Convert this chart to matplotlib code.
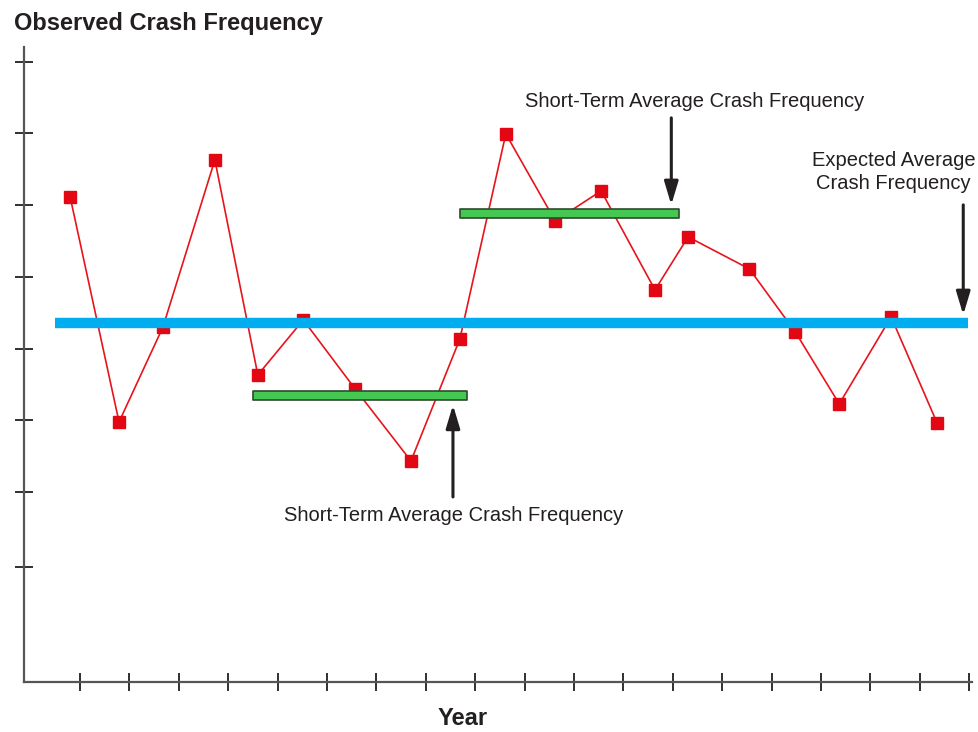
import matplotlib
matplotlib.use('Agg')
import matplotlib.pyplot as plt

# observed crash frequency per year (x in tick units, y in chart units)
year_pos = [0.80, 1.79, 2.68, 3.73, 4.60, 5.52, 6.57, 7.70, 8.69, 9.62,
            10.62, 11.55, 12.64, 13.31, 14.55, 15.48, 16.37, 17.42, 18.35]
crashes = [48.5, 26.0, 35.5, 52.2, 30.7, 36.2, 29.3, 22.1, 34.3, 54.8,
           46.1, 49.1, 39.2, 44.5, 41.3, 35.0, 27.8, 36.5, 25.9]

expected_avg = 35.85
expected_span = (0.49, 18.98)

short_term_avgs = [28.6, 46.85]
short_term_spans = [(4.50, 8.84), (8.69, 13.13)]

x_ticks = list(range(1, 20))
y_ticks = [11.5, 19.0, 26.2, 33.3, 40.5, 47.7, 54.9, 62.0]

label_font = 'Liberation Sans'

fig = plt.figure(figsize=(9.79, 7.32), dpi=100)
ax = fig.add_axes([0.0245, 0.0683, 0.9685, 0.8677])

# red series
ax.plot(year_pos, crashes, color='#e8141c', lw=1.2, zorder=2)
ax.plot(year_pos, crashes, ls='none', marker='s', ms=8.8,
        color='#e30613', zorder=3)

# expected average
ax.plot(expected_span, [expected_avg] * 2, color='#00aeef', lw=7.5,
        solid_capstyle='butt', zorder=4)

# short-term averages as thin green bars
for (x0, x1), y in zip(short_term_spans, short_term_avgs):
    ax.fill_between([x0, x1], y - 0.45, y + 0.45, facecolor='#45c852',
                    edgecolor='#2d4a2d', lw=1.2, zorder=5)

arrow = dict(arrowstyle='-|>,head_length=1.4,head_width=0.42',
             color='#231f20', lw=2.2, shrinkA=0, shrinkB=0)
ax.annotate('', xy=(8.55, 27.7), xytext=(8.55, 18.5), arrowprops=arrow, zorder=6)
ax.annotate('', xy=(12.97, 47.7), xytext=(12.97, 56.4), arrowprops=arrow, zorder=6)
ax.annotate('', xy=(18.88, 36.7), xytext=(18.88, 47.7), arrowprops=arrow, zorder=6)

ax.text(8.57, 16.6, 'Short-Term Average Crash Frequency', ha='center',
        va='center', fontsize=14.5, family=label_font, color='#231f20')
ax.text(13.45, 58.0, 'Short-Term Average Crash Frequency', ha='center',
        va='center', fontsize=14.5, family=label_font, color='#231f20')
ax.text(17.47, 51.0, 'Expected Average\nCrash Frequency', ha='center',
        va='center', fontsize=14.5, family=label_font, color='#231f20',
        linespacing=1.3, clip_on=False)

ax.set_xlim(-0.134, 19.06)
ax.set_ylim(0, 63.5)
ax.set_xticks(x_ticks)
ax.set_yticks(y_ticks)
ax.set_xticklabels([])
ax.set_yticklabels([])
ax.tick_params(direction='inout', length=13.5, width=1.3, color='#231f20')

for side in ['top', 'right']:
    ax.spines[side].set_visible(False)
for side in ['left', 'bottom']:
    ax.spines[side].set_color('#555555')
    ax.spines[side].set_linewidth(1.6)

fig.text(0.0143, 0.968, 'Observed Crash Frequency', ha='left', va='center',
         fontsize=17, fontweight='bold', family=label_font, color='#231f20')
fig.text(0.473, 0.019, 'Year', ha='center', va='center', fontsize=17,
         fontweight='bold', family=label_font, color='#231f20')

fig.savefig('out.png', dpi=100)
